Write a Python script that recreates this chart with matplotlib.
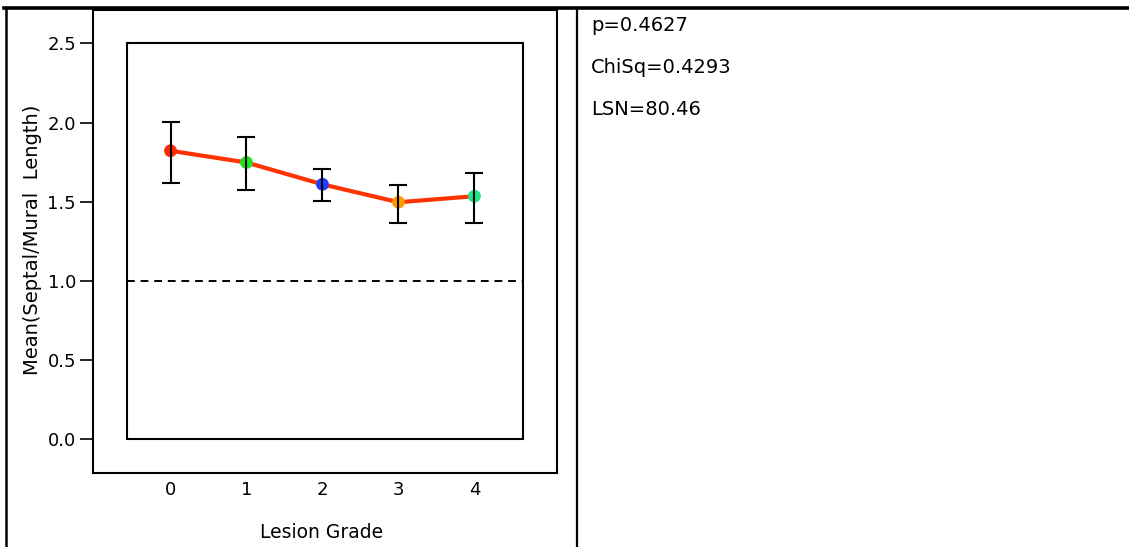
import matplotlib
matplotlib.use("Agg")
import matplotlib.pyplot as plt
from matplotlib.patches import Rectangle
from matplotlib.lines import Line2D

plt.rcParams['font.family'] = ['DejaVu Sans']

# data
grades = [0, 1, 2, 3, 4]
means = [1.822, 1.748, 1.610, 1.497, 1.535]
err_low = [1.616, 1.576, 1.504, 1.364, 1.364]
err_high = [2.005, 1.908, 1.706, 1.605, 1.679]
point_colors = ['#ff2a00', '#22e022', '#1f3cff', '#ff9a00', '#20e58a']
ref_value = 1.0
stats_text = ['p=0.4627', 'ChiSq=0.4293', 'LSN=80.46']

W, H = 1129, 547
fig = plt.figure(figsize=(W / 100, H / 100), dpi=100)

# outer frame of the plot
ax = fig.add_axes([93.3 / W, 1 - 472.7 / H, 464 / W, 462.7 / H])
ax.set_xlim(-1.016, 5.09)
ax.set_ylim(-0.211, 2.711)
for s in ax.spines.values():
    s.set_linewidth(1.5)

# inner frame
ax.add_patch(Rectangle((-0.568, 0), 5.21, 2.5, fill=False, lw=1.5, ec='black', zorder=1))

# reference line
ax.plot([-0.568, 4.642], [ref_value, ref_value], color='black', lw=1.4,
        linestyle=(0, (4, 3)), zorder=2)

# connecting line, points, error bars
ax.plot(grades, means, color='#ff3300', lw=3.0, zorder=3, solid_capstyle='round')
ax.scatter(grades, means, s=85, c=point_colors, zorder=4, linewidths=0)
yerr = [[m - lo for m, lo in zip(means, err_low)], [hi - m for m, hi in zip(means, err_high)]]
ax.errorbar(grades, means, yerr=yerr, fmt='none', ecolor='black', elinewidth=1.5,
            capsize=6.5, capthick=1.5, zorder=5)

ax.set_yticks([0.0, 0.5, 1.0, 1.5, 2.0, 2.5])
ax.set_yticklabels(['0.0', '0.5', '1.0', '1.5', '2.0', '2.5'])
ax.set_xticks(grades)
ax.tick_params(axis='y', length=9.5, width=1.2, labelsize=13, pad=3)
ax.tick_params(axis='x', length=0, labelsize=13, pad=6)

fig.text(322 / W, 1 - 532 / H, 'Lesion Grade', ha='center', va='center', fontsize=13.5)
fig.text(33 / W, 1 - 240 / H, 'Mean(Septal/Mural  Length)', ha='center', va='center',
         rotation=90, fontsize=14)

# table borders
fig.add_artist(Line2D([4 / W, 1], [1 - 7.5 / H, 1 - 7.5 / H], color='black', lw=2.6))
fig.add_artist(Line2D([5.5 / W, 5.5 / W], [0, 1 - 7.5 / H], color='black', lw=1.8))
fig.add_artist(Line2D([577 / W, 577 / W], [0, 1 - 7.5 / H], color='black', lw=1.6))

# statistics in right cell
for i, t in enumerate(stats_text):
    fig.text(591 / W, 1 - (31 + 42 * i) / H, t, ha='left', va='baseline', fontsize=14)

fig.savefig('out.png', dpi=100)
